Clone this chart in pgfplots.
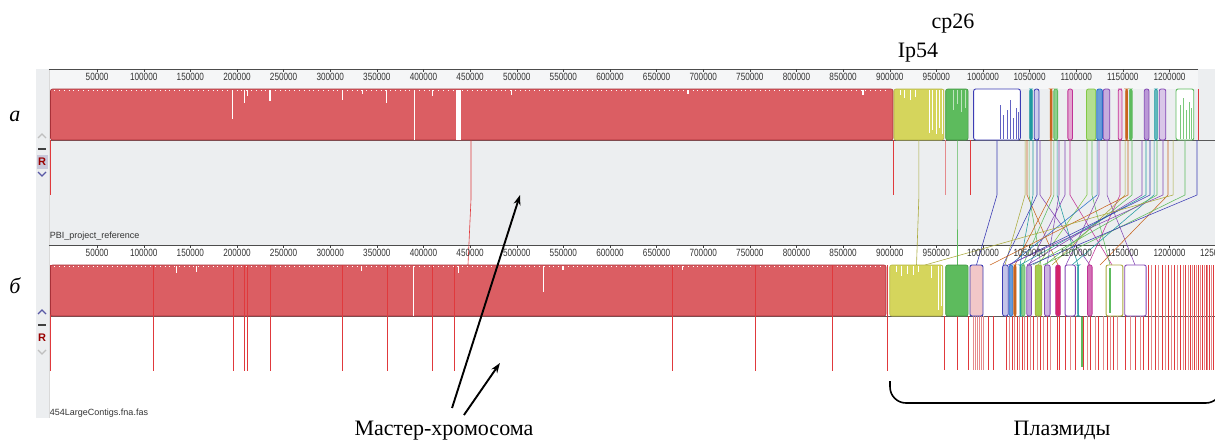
\documentclass[border=0pt]{standalone}
\usepackage{pgfplots}
\pgfplotsset{compat=1.18}
\usetikzlibrary{arrows.meta}
\usepackage{fontspec}
\setmainfont{Liberation Serif}
\newfontfamily\tickfont[FakeStretch=0.78]{Liberation Sans}
\newfontfamily\labfont{Liberation Sans}
\definecolor{pgray}{HTML}{ECEEF0}
\definecolor{rgray}{HTML}{F5F6F7}
\definecolor{mred}{HTML}{DB5E63}
\definecolor{mredd}{HTML}{A83038}
\definecolor{lred}{HTML}{E0393C}
\definecolor{pred}{HTML}{E58A8C}
\definecolor{myellow}{HTML}{D5D55C}
\definecolor{myellowd}{HTML}{B5B545}
\definecolor{mgreen}{HTML}{5DBB5D}
\definecolor{mgreend}{HTML}{3F963F}
\definecolor{mblue}{HTML}{3C3CB4}
\definecolor{mteal}{HTML}{1E9AA0}
\definecolor{morange}{HTML}{C8641E}
\definecolor{mmag}{HTML}{C03296}
\definecolor{mpurple}{HTML}{8246B4}
\definecolor{mlgreen}{HTML}{82C846}
\definecolor{mbluel}{HTML}{2870C8}
\definecolor{molive}{HTML}{AAAA3C}
\newcommand{\blk}[5]{\addplot[#5, rounded corners=2pt] coordinates {(#1,#3) (#2,#3) (#2,#4) (#1,#4)} --cycle;}
\newcommand{\rect}[5]{\addplot[#5] coordinates {(#1,#3) (#2,#3) (#2,#4) (#1,#4)} --cycle;}
\newcommand{\seg}[5]{\addplot[#5] coordinates {(#1,#2) (#3,#4)};}
\newcommand{\cn}[3]{\addplot[#3, line width=0.55pt] coordinates {(#1,140) (#1,195) (#2,265)};}
\pgfplotsset{
  ruler/.style={scale only axis, height=1pt,
    xmin=-54155, ymin=0, ymax=1, scaled x ticks=false,
    hide y axis, axis x line*=bottom, x axis line style={draw=none},
    tick align=outside, major tick length=3pt,
    xtick style={draw=black!75, line width=0.5pt},
    xticklabel style={font=\tickfont\fontsize{10.5}{12}\selectfont, text=black!80, inner sep=0.5pt}},
}
\begin{document}
\begin{tikzpicture}
\useasboundingbox (0,0) rectangle (1215pt,439pt);
\begin{axis}[at={(0pt,0pt)}, anchor=south west, scale only axis,
  width=1215pt, height=439pt, xmin=-54155, xmax=1248794,
  ymin=0, ymax=439, y dir=reverse, hide axis, clip=false]
% ---------- backgrounds
\rect{-15550}{1248794}{69}{245}{fill=pgray, draw=none}
\rect{-1609}{1230600}{69}{89}{fill=rgray, draw=none}
\rect{-15550}{-1609}{245}{418}{fill=pgray, draw=none}
\seg{-1609}{69}{-1609}{418}{draw=black!15, line width=0.5pt}
% rulers and baselines
\seg{-1609}{69}{1230600}{69}{draw=black!70, line width=0.8pt}
\seg{-1609}{245}{1248794}{245}{draw=black!70, line width=0.8pt}
\seg{0}{140}{1248794}{140}{draw=black!65, line width=1pt}
\seg{0}{316}{1248794}{316}{draw=black!65, line width=1pt}
% ---------- panel a: lines below blocks
\seg{0}{140}{0}{195}{draw=lred, line width=0.6pt}
\seg{903500}{140}{903500}{195}{draw=lred, line width=0.6pt}
\seg{959300}{140}{959300}{195}{draw=pred, line width=0.6pt}
\seg{986100}{140}{986100}{195}{draw=lred, line width=0.6pt}
\addplot[lred, line width=0.6pt] coordinates {(450900,140) (450900,200) (447700,265)};
\addplot[molive, line width=0.6pt] coordinates {(931300,140) (931300,195) (928700,265)};
\addplot[mgreen, line width=0.6pt] coordinates {(972100,140) (972100,195) (972100,265)};
\addplot[mblue, line width=0.6pt] coordinates {(1015000,140) (1015000,195) (993000,265)};
\cn{1045100}{1023600}{molive}
\cn{1047200}{1080400}{morange}
\cn{1049400}{1062200}{mgreen}
\cn{1053600}{1039700}{mteal}
\cn{1057900}{1021500}{mblue}
\cn{1061100}{1114700}{mpurple}
\cn{1072900}{1034300}{morange}
\cn{1076100}{1042900}{mgreen}
\cn{1079400}{1101900}{mteal}
\cn{1081500}{1068600}{mpurple}
\cn{1087900}{1049400}{mpurple}
\cn{1093300}{1138400}{mmag}
\cn{1111500}{1059000}{mlgreen}
\cn{1116900}{1136200}{mgreen}
\cn{1122300}{1029000}{mbluel}
\cn{1124400}{1089000}{mpurple}
\cn{1133000}{1163000}{mpurple}
\cn{1146900}{1112600}{mmag}
\cn{1152300}{1074000}{molive}
\cn{1155500}{1007500}{morange}
\cn{1159800}{1066500}{mgreen}
\cn{1170500}{1047200}{mpurple}
\cn{1174800}{1039700}{mteal}
\cn{1179100}{1027900}{mblue}
\cn{1183400}{1095400}{mteal}
\cn{1186600}{1053600}{mgreen}
\cn{1193000}{1026800}{mpurple}
\cn{1198400}{1125500}{morange}
\cn{1203800}{937800}{molive}
\cn{1216600}{1064300}{mgreen}
\cn{1229500}{1050400}{mblue}
% ---------- panel a: blocks
\blk{0}{903500}{89}{140}{fill=mred, draw=mredd, line width=0.6pt}
\addplot[white, line width=1.2pt, dash pattern=on 0.8pt off 4pt] coordinates {(4000,90.8) (898000,90.8)};
\addplot[draw=none, error bars/.cd, y dir=plus, y explicit, error mark=none,
  error bar style={draw=white, line width=1.1pt}]
  coordinates {(195400,90) +- (0,29) (207900,90) +- (0,13) (211000,90) +- (0,6)
  (235400,90) +- (0,11) (313300,90) +- (0,10) (334400,90) +- (0,4) (360500,90) +- (0,13)
  (390200,90) +- (0,49.5) (409900,90) +- (0,6) (494600,90) +- (0,5) (683600,90) +- (0,4) (871300,90) +- (0,5)};
\rect{434900}{440200}{89.5}{139.5}{fill=white, draw=none}
\blk{904500}{958000}{89}{140}{fill=myellow, draw=myellowd, line width=0.6pt}
\addplot[draw=none, error bars/.cd, y dir=plus, y explicit, error mark=none,
  error bar style={draw=white, line width=0.9pt}]
  coordinates {(911000,90) +- (0,5) (916000,90) +- (0,8) (922000,90) +- (0,10) (928000,90) +- (0,7)
  (943100,90) +- (0,43) (946300,90) +- (0,40) (950600,90) +- (0,44) (952800,90) +- (0,38) (956000,90) +- (0,44)};
\blk{960000}{984000}{89}{140}{fill=mgreen, draw=mgreend, line width=0.6pt}
\addplot[draw=none, error bars/.cd, y dir=plus, y explicit, error mark=none,
  error bar style={draw=white!60!mgreen, line width=0.8pt}]
  coordinates {(968600,90) +- (0,20) (972900,90) +- (0,14) (977200,90) +- (0,22) (981500,90) +- (0,18)};
\blk{990000}{1040000}{89}{140}{fill=white, draw=mblue, line width=0.9pt}
\addplot[draw=none, error bars/.cd, y dir=plus, y explicit, error mark=none,
  error bar style={draw=mblue!80, line width=0.6pt}]
  coordinates {(1018200,105) +- (0,34) (1021500,115) +- (0,24) (1025700,110) +- (0,29)
  (1029000,100) +- (0,39) (1032200,118) +- (0,21) (1035400,108) +- (0,31) (1037600,112) +- (0,27)};
\blk{1050000}{1053000}{89}{140}{fill=mteal, draw=mteal, line width=0.6pt}
\blk{1055000}{1060000}{89}{140}{fill=mblue!25, draw=mblue, line width=0.8pt}
\blk{1072000}{1074000}{89}{140}{fill=morange, draw=morange, line width=0.6pt}
\blk{1076000}{1080000}{89}{140}{fill=mgreen!70, draw=mgreen, line width=0.8pt}
\blk{1091000}{1096000}{89}{140}{fill=mmag!45, draw=mmag, line width=0.8pt}
\blk{1111000}{1121000}{89}{140}{fill=mlgreen!60, draw=mlgreen, line width=0.8pt}
\blk{1122000}{1128000}{89}{140}{fill=mbluel!70, draw=mbluel, line width=0.8pt}
\blk{1129000}{1136000}{89}{140}{fill=mpurple!45, draw=mpurple, line width=0.8pt}
\blk{1145000}{1149000}{89}{140}{fill=mmag!25, draw=mmag, line width=0.8pt}
\blk{1153000}{1155000}{89}{140}{fill=morange, draw=morange, line width=0.6pt}
\blk{1157000}{1160000}{89}{140}{fill=mgreen, draw=mgreen, line width=0.6pt}
\blk{1173000}{1178000}{89}{140}{fill=mpurple!55, draw=mpurple, line width=0.8pt}
\blk{1184000}{1187000}{89}{140}{fill=mteal!70, draw=mteal, line width=0.6pt}
\blk{1189000}{1196000}{89}{140}{fill=mpurple!30, draw=mpurple, line width=0.8pt}
\blk{1207000}{1226000}{89}{140}{fill=white, draw=mgreen, line width=0.9pt}
\addplot[draw=none, error bars/.cd, y dir=plus, y explicit, error mark=none,
  error bar style={draw=mgreen!80, line width=0.5pt}]
  coordinates {(1212000,105) +- (0,34) (1215000,98) +- (0,41) (1218000,110) +- (0,29) (1221000,102) +- (0,37) (1223500,108) +- (0,31)};
\seg{1230600}{89}{1230600}{140}{draw=lred, line width=0.8pt}
% ---------- panel b
\addplot[draw=none, error bars/.cd, y dir=plus, y fixed=106, error mark=none,
  error bar style={draw=lred, line width=0.7pt}]
  coordinates {(0,265) (109900,265) (195700,265) (207500,265) (210700,265) (235400,265)
  (312600,265) (360900,265) (409100,265) (432700,265) (666500,265) (755500,265) (838100,265) (897100,265)};
\addplot[draw=none, error bars/.cd, y dir=plus, y fixed=54, error mark=none,
  error bar style={draw=lred, line width=0.6pt}]
  coordinates {(958200,316) (972100,316) (983900,316) (1005400,316) (1010700,316) (1024700,316)
  (1031100,316) (1036500,316) (1041800,316) (1047200,316) (1053600,316) (1061100,316) (1068600,316)
  (1079400,316) (1081500,316) (1087900,316) (1098700,316) (1107200,316) (1114700,316) (1123300,316)
  (1133000,316) (1139400,316) (1152300,316) (1163000,316) (1171600,316)};
\addplot[draw=none, error bars/.cd, y dir=plus, y fixed=54, error mark=none,
  error bar style={draw=pred, line width=0.6pt}]
  coordinates {(989300,316) (991400,316) (993600,316) (995700,316) (997900,316) (1000000,316)
  (1027900,316) (1033200,316) (1038600,316) (1044000,316) (1050400,316) (1057900,316) (1064300,316)
  (1071900,316) (1093300,316) (1111500,316) (1120100,316) (1128700,316) (1136200,316) (1143700,316)
  (1157600,316) (1168400,316)};
\addplot[draw=none, error bars/.cd, y dir=plus, y fixed=105, error mark=none,
  error bar style={draw=lred, line width=0.6pt}]
  coordinates {(1176900,265) (1184400,265) (1191900,265) (1198400,265) (1204800,265) (1211300,265)
  (1216600,265) (1222000,265) (1226300,265) (1230600,265) (1234900,265) (1239200,265) (1242400,265) (1246700,265)};
\addplot[draw=none, error bars/.cd, y dir=plus, y fixed=105, error mark=none,
  error bar style={draw=pred, line width=0.6pt}]
  coordinates {(1180200,265) (1187700,265) (1195200,265) (1201600,265) (1208100,265) (1214500,265)
  (1219800,265) (1224100,265) (1228400,265) (1232700,265) (1237000,265) (1240200,265) (1244500,265)};
\addplot[mgreen, line width=2pt] coordinates {(1106100,317) (1106100,367)};
% blocks b
\blk{0}{896000}{265}{316}{fill=mred, draw=mredd, line width=0.6pt}
\addplot[white, line width=1.2pt, dash pattern=on 0.8pt off 4pt] coordinates {(4000,266.8) (890000,266.8)};
\addplot[draw=none, error bars/.cd, y dir=plus, y fixed=106, error mark=none,
  error bar style={draw=lred, line width=0.7pt}]
  coordinates {(109900,265) (195700,265) (207500,265) (210700,265) (235400,265)
  (312600,265) (360900,265) (409100,265) (432700,265) (666500,265) (755500,265) (838100,265)};
\addplot[draw=none, error bars/.cd, y dir=plus, y explicit, error mark=none,
  error bar style={draw=white, line width=1.1pt}]
  coordinates {(135300,266) +- (0,7) (156800,266) +- (0,6) (333700,266) +- (0,5)
  (389100,266) +- (0,49.5) (437300,266) +- (0,7) (528500,266) +- (0,26) (549600,266) +- (0,4) (677600,266) +- (0,4)};
\blk{900000}{957000}{265}{316}{fill=myellow, draw=myellowd, line width=0.6pt}
\addplot[draw=none, error bars/.cd, y dir=plus, y explicit, error mark=none,
  error bar style={draw=white, line width=0.9pt}]
  coordinates {(907000,266) +- (0,6) (913000,266) +- (0,10) (919000,266) +- (0,8) (925000,266) +- (0,9)
  (931000,266) +- (0,6) (945000,266) +- (0,12) (952000,266) +- (0,44) (955000,266) +- (0,40)};
\blk{960000}{984000}{265}{316}{fill=mgreen, draw=mgreend, line width=0.6pt}
\blk{986000}{1000000}{265}{316}{fill=mred!35, draw=mblue, line width=0.9pt}
\blk{1021000}{1027000}{265}{316}{fill=mblue!30, draw=mblue, line width=0.8pt}
\blk{1028000}{1032000}{265}{316}{fill=mbluel!70, draw=mbluel, line width=0.6pt}
\blk{1033000}{1035500}{265}{316}{fill=morange, draw=morange, line width=0.6pt}
\blk{1039500}{1041000}{265}{316}{fill=mteal, draw=mteal, line width=0.6pt}
\blk{1041500}{1045000}{265}{316}{fill=mgreen!70, draw=mgreen, line width=0.6pt}
\blk{1047000}{1052000}{265}{316}{fill=mpurple!50, draw=mpurple, line width=0.8pt}
\blk{1056000}{1063000}{265}{316}{fill=mlgreen!60!myellow, draw=molive, line width=0.8pt}
\blk{1066000}{1072000}{265}{316}{fill=mpurple!40, draw=mpurple, line width=0.8pt}
\blk{1078000}{1083000}{265}{316}{fill=mmag!70!red, draw=mmag, line width=0.6pt}
\blk{1088000}{1099000}{265}{316}{fill=white, draw=mpurple, line width=0.9pt}
\blk{1101500}{1102500}{265}{316}{fill=mteal, draw=mteal, line width=0.6pt}
\blk{1112000}{1117000}{265}{316}{fill=mmag!70, draw=mmag, line width=0.8pt}
\blk{1132000}{1150000}{265}{316}{fill=white, draw=molive, line width=0.9pt}
\seg{1136200}{268}{1136200}{313}{draw=mgreen, line width=1.6pt}
\blk{1152000}{1175000}{265}{316}{fill=white, draw=mpurple, line width=0.9pt}
% ---------- texts
\node[font=\labfont\fontsize{9}{10}\selectfont, text=black!80, anchor=base west, inner sep=0pt] at (axis cs:-800,238) {PBI\_project\_reference};
\node[font=\labfont\fontsize{9}{10}\selectfont, text=black!80, anchor=base west, inner sep=0pt] at (axis cs:-800,415) {454LargeContigs.fna.fas};
\node[font=\itshape\fontsize{22}{24}\selectfont, anchor=base, inner sep=0pt] at (axis cs:-38100,121) {а};
\node[font=\itshape\fontsize{22}{24}\selectfont, anchor=base, inner sep=0pt] at (axis cs:-38100,293) {б};
\node[font=\fontsize{22}{24}\selectfont, anchor=base, inner sep=0pt] at (axis cs:930300,57) {Ip54};
\node[font=\fontsize{22}{24}\selectfont, anchor=base, inner sep=0pt] at (axis cs:967800,28) {cp26};
\node[font=\fontsize{22}{24}\selectfont, anchor=base, inner sep=0pt] at (axis cs:422000,435) {Мастер-хромосома};
\node[font=\fontsize{22}{24}\selectfont, anchor=base, inner sep=0pt] at (axis cs:1084700,435) {Плазмиды};
% arrows
\draw[line width=1.9pt, -{Stealth[length=10pt,width=7pt]}] (axis cs:430600,408) -- (axis cs:503500,195);
\draw[line width=1.9pt, -{Stealth[length=10pt,width=7pt]}] (axis cs:443400,415) -- (axis cs:482000,363);
% brace
\draw[line width=1.6pt, rounded corners=16pt] (axis cs:900300,381) -- (axis cs:900300,403) -- (axis cs:1256000,403) -- (axis cs:1256000,381);
% control strips
\draw[draw=black!25, line width=1.3pt] (axis cs:-13400,138) -- (axis cs:-9100,134) -- (axis cs:-4800,138);
\draw[draw=black!75, line width=1.3pt] (axis cs:-12900,149) -- (axis cs:-5300,149);
\fill[fill=blue!20!gray!35] (axis cs:-15000,155) rectangle (axis cs:-3200,169);
\node[font=\labfont\bfseries\fontsize{11}{12}\selectfont, text=red!60!black, inner sep=0pt] at (axis cs:-9100,162) {R};
\draw[draw=blue!30!gray, line width=1.3pt] (axis cs:-13400,172) -- (axis cs:-9100,176) -- (axis cs:-4800,172);
\draw[draw=blue!30!gray, line width=1.3pt] (axis cs:-13400,314) -- (axis cs:-9100,310) -- (axis cs:-4800,314);
\draw[draw=black!75, line width=1.3pt] (axis cs:-12900,325) -- (axis cs:-5300,325);
\node[font=\labfont\bfseries\fontsize{11}{12}\selectfont, text=red!60!black, inner sep=0pt] at (axis cs:-9100,338) {R};
\draw[draw=black!25, line width=1.3pt] (axis cs:-13400,350) -- (axis cs:-9100,354) -- (axis cs:-4800,350);
\end{axis}
% ---------- rulers
\begin{axis}[ruler, width=1215pt, xmax=1248794, at={(0pt,370pt)}, anchor=south west,
  xtick={50000,100000,...,1200000},
  xticklabels={50000,100000,150000,200000,250000,300000,350000,400000,450000,500000,550000,600000,650000,700000,750000,800000,850000,900000,950000,1000000,1050000,1100000,1150000,1200000}]
\addplot[draw=none] coordinates {(0,0.5)};
\end{axis}
\begin{axis}[ruler, width=1217.99pt, xmax=1252000, at={(0pt,194pt)}, anchor=south west,
  xtick={50000,100000,...,1250000},
  xticklabels={50000,100000,150000,200000,250000,300000,350000,400000,450000,500000,550000,600000,650000,700000,750000,800000,850000,900000,950000,1000000,1050000,1100000,1150000,1200000,1250000}]
\addplot[draw=none] coordinates {(0,0.5)};
\end{axis}
\end{tikzpicture}
\end{document}
